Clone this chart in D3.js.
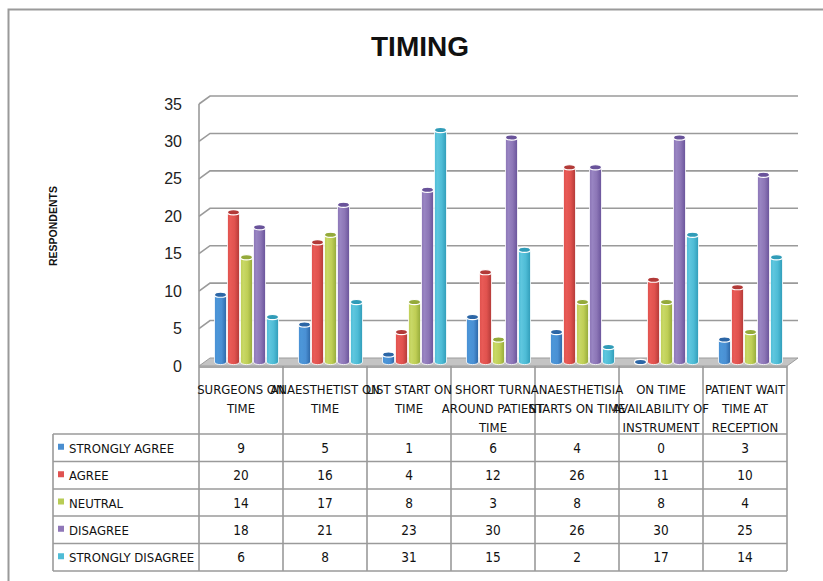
<!DOCTYPE html>
<html>
<head>
<meta charset="utf-8">
<script src="https://cdn.jsdelivr.net/npm/d3@7"></script>
<style>
  html, body { margin: 0; padding: 0; background: #fff; }
  svg { display: block; }
</style>
</head>
<body>
<svg id="chart" width="823" height="581"></svg>
<script>
// ---------------- DATA ----------------
const categories = [
  "SURGEONS ON TIME",
  "ANAESTHETIST ON TIME",
  "LIST START ON TIME",
  "SHORT TURN AROUND PATIENT TIME",
  "ANAESTHETISIA STARTS ON TIME",
  "ON TIME AVAILABILITY OF INSTRUMENT",
  "PATIENT WAIT TIME AT RECEPTION"
];
const categoryLines = [
  ["SURGEONS ON", "TIME"],
  ["ANAESTHETIST ON", "TIME"],
  ["LIST START ON", "TIME"],
  ["SHORT TURN", "AROUND PATIENT", "TIME"],
  ["ANAESTHETISIA", "STARTS ON TIME"],
  ["ON TIME", "AVAILABILITY OF", "INSTRUMENT"],
  ["PATIENT WAIT", "TIME AT", "RECEPTION"]
];
const seriesNames = ["STRONGLY AGREE", "AGREE", "NEUTRAL", "DISAGREE", "STRONGLY DISAGREE"];
const stronglyAgree    = [9, 5, 1, 6, 4, 0, 3];
const agree            = [20, 16, 4, 12, 26, 11, 10];
const neutral          = [14, 17, 8, 3, 8, 8, 4];
const disagree         = [18, 21, 23, 30, 26, 30, 25];
const stronglyDisagree = [6, 8, 31, 15, 2, 17, 14];
const yTicks = [0, 5, 10, 15, 20, 25, 30, 35];
const title = "TIMING";
const yAxisTitle = "RESPONDENTS";

const seriesValues = [stronglyAgree, agree, neutral, disagree, stronglyDisagree];
const seriesColors = [
  {key: "#4a8ed0", l: "#4c96d8", m: "#4a90d4", r: "#2c66a6", top: "#5a9ad8"},
  {key: "#e05250", l: "#e85a56", m: "#e0524e", r: "#b23a38", top: "#e8625e"},
  {key: "#b8cc55", l: "#c8d866", m: "#bfce55", r: "#94aa3a", top: "#c8d870"},
  {key: "#8f77b8", l: "#9884c2", m: "#8c76b6", r: "#69539a", top: "#9a86c4"},
  {key: "#4fbcd6", l: "#5ec6de", m: "#4ebcd6", r: "#309cb8", top: "#6ccbe0"}
];

// ---------------- LAYOUT ----------------
const svg = d3.select("#chart");
const FONT = "'DejaVu Sans Condensed', 'Liberation Sans Narrow', sans-serif";
const FONTW = "'Liberation Sans', Arial, sans-serif";

const plotLeft = 199, plotRight = 787;
const depthX = 11, depthY = 8;
const x = d3.scaleBand().domain(categories).range([plotLeft, plotRight]).padding(0);
const yFront = d3.scaleLinear().domain([0, 35]).range([366, 104]);
const yBack  = yFront.copy().range([358, 96]);
const yMid   = yFront.copy().range([362, 100]);

// frame
svg.append("path")
  .attr("d", "M8.5,581 L8.5,9.5 L823,9.5")
  .attr("fill", "none").attr("stroke", "#9a9a9a").attr("stroke-width", 2);

// title
svg.append("text")
  .attr("x", 420).attr("y", 56)
  .attr("text-anchor", "middle")
  .attr("font-family", FONTW).attr("font-weight", "bold").attr("font-size", 28)
  .attr("fill", "#111").text(title);

// y axis title
svg.append("text")
  .attr("transform", "translate(57,226) rotate(-90)")
  .attr("text-anchor", "middle")
  .attr("font-family", FONTW).attr("font-weight", "bold").attr("font-size", 10.5)
  .attr("fill", "#111").text(yAxisTitle);

// floor
const floor = svg.append("g");
floor.append("path")
  .attr("d", `M${plotLeft},${yFront(0)} L${plotLeft + depthX},${yBack(0)} L${plotRight + depthX},${yBack(0)} L${plotRight},${yFront(0)} Z`)
  .attr("fill", "#c4c4c4").attr("stroke", "#9c9c9c").attr("stroke-width", 1);
floor.append("path")
  .attr("d", `M${plotLeft},${yFront(0)} L${plotRight},${yFront(0)} L${plotRight},${yFront(0) + 2} L${plotLeft},${yFront(0) + 2} Z`)
  .attr("fill", "#a8a8a8");

// gridlines (back wall + side wall diagonals)
const grid = svg.append("g").attr("stroke", "#9a9a9a").attr("stroke-width", 1.6).attr("fill", "none");
yTicks.filter(t => t > 0).forEach(t => {
  grid.append("path")
    .attr("d", `M${plotLeft},${yFront(t)} L${plotLeft + depthX},${yBack(t)} L${plotRight + depthX},${yBack(t)}`);
});
// left axis line
grid.append("line")
  .attr("x1", plotLeft).attr("x2", plotLeft)
  .attr("y1", yFront(35)).attr("y2", yFront(0));

// tick labels
const yAxis = d3.axisLeft(yFront).tickValues(yTicks).tickSize(0).tickPadding(17);
const ya = svg.append("g").attr("transform", `translate(${plotLeft},0)`).call(yAxis);
ya.select(".domain").remove();
ya.selectAll("text")
  .attr("font-family", FONTW).attr("font-size", 16).attr("fill", "#222");

// gradients
const defs = svg.append("defs");
seriesColors.forEach((c, i) => {
  const g = defs.append("linearGradient").attr("id", "g" + i)
    .attr("x1", "0").attr("x2", "1").attr("y1", "0").attr("y2", "0");
  g.append("stop").attr("offset", "0").attr("stop-color", c.m);
  g.append("stop").attr("offset", "0.25").attr("stop-color", c.l);
  g.append("stop").attr("offset", "0.6").attr("stop-color", c.m);
  g.append("stop").attr("offset", "1").attr("stop-color", c.r);
});

// bars (cylinders)
const groupW = 65;
const xs = d3.scaleBand().domain(seriesNames).range([0, groupW]).padding(0);
const bars = svg.append("g");
categories.forEach((cat, ci) => {
  const gx = x(cat) + (x.bandwidth() - groupW) / 2 + depthX / 2;
  seriesNames.forEach((s, si) => {
    const v = seriesValues[si][ci];
    const bx = gx + xs(s) + 0.5;
    const bw = xs.bandwidth() - 1;
    const y0 = yMid(0), y1 = yMid(v);
    const rx = bw / 2, ry = 2.6;
    const cx = bx + rx;
    const g = bars.append("g");
    if (v > 0) {
      g.append("path")
        .attr("d", `M${bx},${y1} L${bx},${y0} A${rx},${ry} 0 0 0 ${bx + bw},${y0} L${bx + bw},${y1} Z`)
        .attr("fill", `url(#g${si})`)
        .attr("stroke", "#ffffff").attr("stroke-width", 0.8);
    }
    g.append("ellipse")
      .attr("cx", cx).attr("cy", y1).attr("rx", rx).attr("ry", ry)
      .attr("fill", seriesColors[si].r)
      .attr("stroke", "#ffffff").attr("stroke-width", 1.2);
  });
});

// ---------------- DATA TABLE ----------------
const table = svg.append("g");
const tLeft = 53;
const headerTop = yFront(0);
const rowTops = [434, 461.5, 489, 516, 543.5, 571];
const lineColor = "#9a9a9a";

const colEdges = categories.map(c => x(c)).concat([plotRight]);
colEdges.forEach(cx => {
  table.append("line").attr("x1", cx).attr("x2", cx)
    .attr("y1", headerTop).attr("y2", rowTops[rowTops.length - 1])
    .attr("stroke", lineColor).attr("stroke-width", 1.6);
});
table.append("line").attr("x1", tLeft).attr("x2", tLeft)
  .attr("y1", rowTops[0]).attr("y2", rowTops[rowTops.length - 1])
  .attr("stroke", lineColor).attr("stroke-width", 1.6);
rowTops.forEach(ry => {
  table.append("line").attr("x1", tLeft).attr("x2", plotRight)
    .attr("y1", ry).attr("y2", ry)
    .attr("stroke", lineColor).attr("stroke-width", 1.6);
});

// category header labels
categories.forEach((cat, ci) => {
  const cx = x(cat) + x.bandwidth() / 2;
  categoryLines[ci].forEach((ln, li) => {
    table.append("text")
      .attr("x", cx).attr("y", 394 + li * 19)
      .attr("text-anchor", "middle")
      .attr("font-family", FONT).attr("font-size", 13).attr("fill", "#111")
      .text(ln);
  });
});

// legend rows + values
seriesNames.forEach((s, si) => {
  const top = rowTops[si], bot = rowTops[si + 1];
  const cy = (top + bot) / 2;
  table.append("rect")
    .attr("x", 58).attr("y", cy - 4).attr("width", 6).attr("height", 6)
    .attr("fill", seriesColors[si].key);
  table.append("text")
    .attr("x", 69).attr("y", cy + 5)
    .attr("font-family", FONT).attr("font-size", 13).attr("fill", "#111")
    .text(s);
  categories.forEach((cat, ci) => {
    table.append("text")
      .attr("x", x(cat) + x.bandwidth() / 2).attr("y", cy + 5)
      .attr("text-anchor", "middle")
      .attr("font-family", FONT).attr("font-size", 13.5).attr("fill", "#111")
      .text(seriesValues[si][ci]);
  });
});
</script>
</body>
</html>
